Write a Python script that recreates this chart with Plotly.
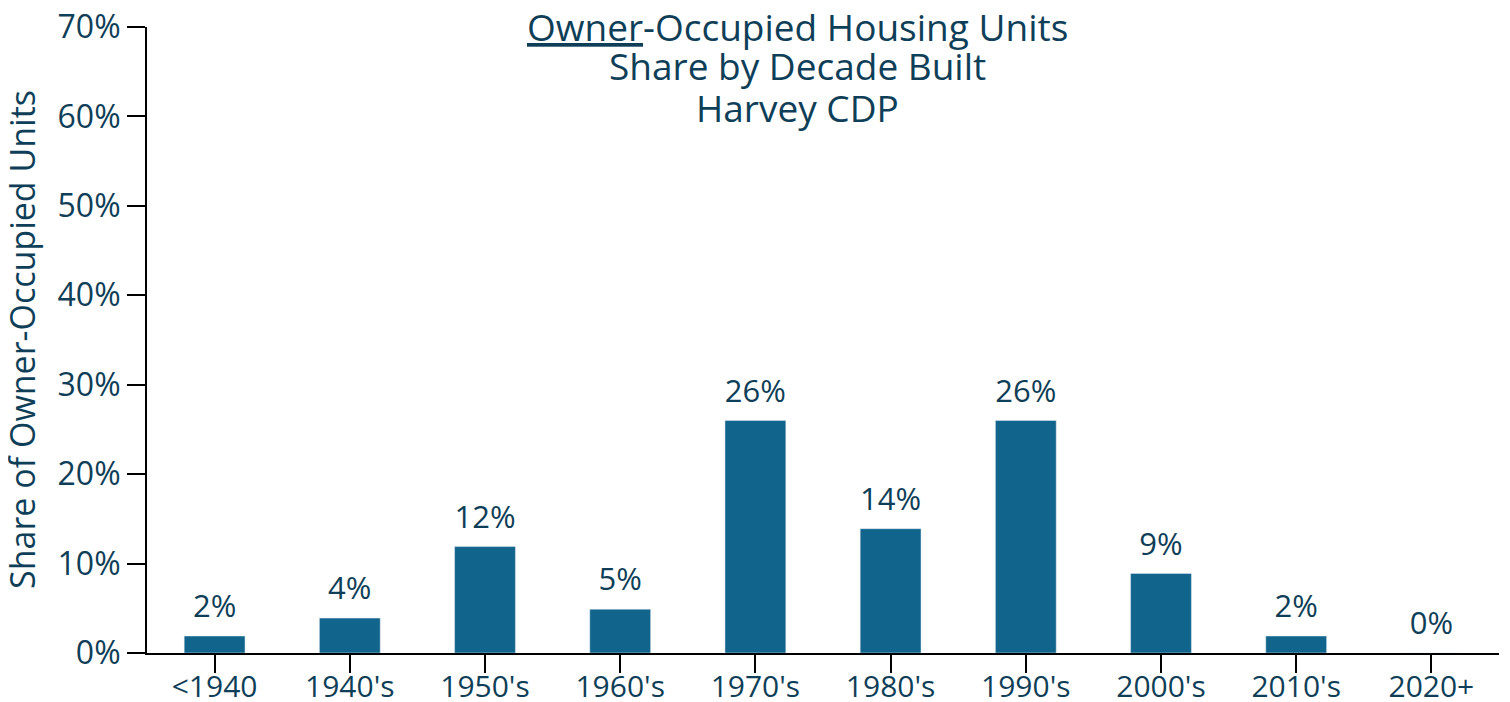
import plotly.graph_objects as go

categories = ["<1940", "1940's", "1950's", "1960's", "1970's", "1980's", "1990's", "2000's", "2010's", "2020+"]
shares = [1.9, 3.9, 11.9, 4.9, 26.0, 13.9, 26.0, 8.9, 1.9, 0.0]
labels = ["2%", "4%", "12%", "5%", "26%", "14%", "26%", "9%", "2%", "0%"]
title_lines = ["<u>Owner</u>-Occupied Housing Units", "Share by Decade Built", "Harvey CDP"]
y_title = "Share of Owner-Occupied Units"

TXT = "#0F3F58"
BAR = "#11648B"
FONT = "Open Sans"

W, H = 1502, 694
ML, MR, MT, MB = 139, 11, 19, 49
plot_h = H - MT - MB
plot_w = W - ML - MR

fig = go.Figure()
fig.add_trace(go.Bar(
    x=categories, y=shares, marker=dict(color=BAR), width=0.45, hoverinfo="skip",
))
fig.add_trace(go.Scatter(
    x=categories, y=shares, mode="markers+text", text=labels, textposition="top center",
    marker=dict(size=16, color="rgba(0,0,0,0)"),
    textfont=dict(size=31, color=TXT, family=FONT), cliponaxis=False, hoverinfo="skip",
))

for line, pix in zip(title_lines, [18, 58, 100]):
    fig.add_annotation(
        text=line, xref="paper", yref="paper", x=0.481, y=(H - MB - pix) / plot_h,
        xanchor="center", yanchor="middle", showarrow=False,
        font=dict(size=37, color=TXT, family=FONT),
    )

fig.add_annotation(
    text=y_title, xref="paper", yref="paper", x=(14 - ML) / plot_w, y=0.5,
    xanchor="center", yanchor="middle", textangle=-90, showarrow=False,
    font=dict(size=34, color=TXT, family=FONT),
)

fig.update_layout(
    width=W, height=H,
    margin=dict(l=ML, r=MR, t=MT, b=MB),
    paper_bgcolor="white", plot_bgcolor="white",
    font=dict(family=FONT, color=TXT, size=31),
    showlegend=False,
    xaxis=dict(
        range=[-0.5, len(categories) - 0.5],
        showline=True, linecolor="black", linewidth=2, automargin=False,
        ticks="outside", ticklen=18, tickwidth=2, tickcolor="black",
        tickfont=dict(size=30, color=TXT), showgrid=False,
        ticklabeloverflow="allow", ticklabelstandoff=-12,
    ),
    yaxis=dict(
        range=[0, 70], dtick=10, ticksuffix="%", automargin=False,
        showline=True, linecolor="black", linewidth=2,
        ticks="outside", ticklen=18, tickwidth=2, tickcolor="black",
        tickfont=dict(size=32, color=TXT), showgrid=False, zeroline=False,
        ticklabeloverflow="allow",
    ),
)

fig.write_html("out.html")
